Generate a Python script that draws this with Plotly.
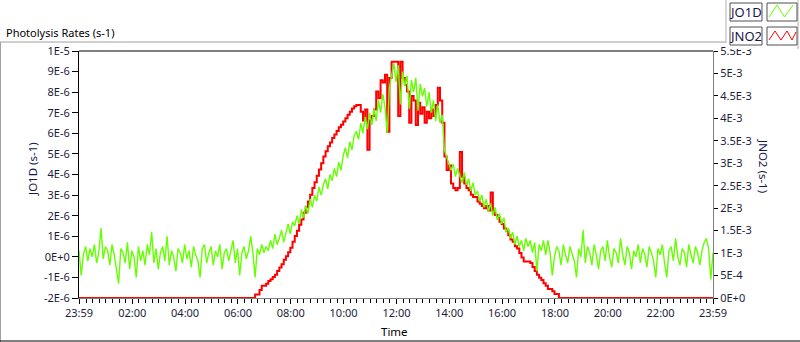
import plotly.graph_objects as go

# ---------------- data ----------------
# samples every 5 minutes, from 23:59 (previous day) to 23:59
START_H = -1 / 60
STEP_H = 5 / 60

# JO1D in units of 1E-6 s-1, one row per hour (12 samples)
JO1D_E6 = [
    0.3, -0.9, 0.1, 0.5, -0.2, 0.4, 0.0, 0.6, -0.3, 0.2, 1.4, -0.1,
    0.5, 0.3, -0.4, 0.6, 0.1, -0.5, -1.3, 0.4, 0.2, -0.3, 0.7, -0.6,
    0.3, 0.0, -1.0, 0.5, -0.2, 0.3, -0.4, 0.6, 0.1, 1.2, -0.3, 0.4,
    -0.6, 0.2, 0.5, -0.2, 1.0, -0.4, 0.3, 0.0, -0.7, 0.4, 0.2, -0.3,
    0.6, -0.1, 0.3, -0.5, 0.5, 0.1, -0.2, -1.0, 0.4, 0.6, -0.3, 0.2,
    0.5, -0.4, 0.3, 0.0, 0.6, -0.6, 0.2, 0.4, -0.2, 0.3, 0.8, -0.3,
    0.4, -0.9, 0.2, 0.5, -0.1, 0.3, 1.0, 0.2, -1.0, 0.4, 0.1, 0.6,
    0.2, 0.5, 0.3, 0.8, 0.4, 1.1, 0.6, 0.9, 1.3, 0.7, 1.2, 1.6,
    1.1, 1.7, 1.5, 2.0, 1.6, 2.3, 1.9, 2.5, 2.1, 2.8, 2.4, 3.0,
    2.7, 3.4, 3.0, 3.5, 3.8, 3.3, 4.0, 3.7, 4.3, 3.9, 4.6, 4.2,
    4.9, 5.3, 4.8, 5.6, 5.2, 5.9, 6.1, 5.7, 6.5, 6.0, 6.8, 6.2,
    7.0, 6.4, 7.2, 6.6, 7.6, 7.0, 7.9, 7.3, 6.0, 8.2, 8.8, 9.4,
    8.5, 9.3, 7.4, 9.0, 8.3, 8.8, 7.2, 8.6, 8.0, 8.7, 7.1, 8.4,
    7.8, 8.2, 7.3, 8.0, 7.0, 7.6, 6.6, 7.4, 6.5, 6.9, 5.2, 4.9,
    4.6, 4.2, 4.5, 3.9, 4.3, 4.0, 3.6, 4.1, 3.5, 3.8, 3.2, 3.6,
    3.0, 3.2, 2.7, 3.0, 2.4, 2.8, 2.2, 2.6, 2.0, 2.4, 1.8, 2.1,
    1.6, 1.9, 1.2, 1.4, 0.9, 1.2, 0.6, 1.0, 0.5, 0.8, 0.3, 0.9,
    0.5, 0.8, 0.2, 0.7, -0.7, 0.6, 0.3, 0.8, 0.1, 0.8, 0.2, -0.9,
    0.0, 0.5, 0.3, -0.4, 0.6, 0.1, -0.3, 0.5, 0.2, -0.2, -1.0, 0.4,
    0.0, 1.3, -0.3, 0.5, 0.2, -0.4, 0.6, 0.1, -0.6, 0.3, 0.5, -0.2,
    0.8, 0.0, -0.5, 0.4, 0.2, -0.3, 0.9, 0.1, -0.4, 0.5, 0.2, -0.6,
    0.3, 0.0, 0.6, -0.3, 0.4, 0.1, -0.5, 0.5, 0.2, -0.2, -1.0, 0.4,
    0.1, 0.6, -0.3, -1.0, 0.3, 0.5, -0.2, 0.9, 0.0, -0.4, 0.4, 0.2,
    -0.5, 0.6, 0.1, -0.3, 0.5, 0.2, -0.4, 0.3, 0.7, 0.9, 0.4, -1.1,
    0.2,
]

# JNO2 in units of 1E-3 s-1, one row per hour (12 samples)
JNO2_E3 = [
    0, 0, 0, 0, 0, 0, 0, 0, 0, 0, 0, 0,
    0, 0, 0, 0, 0, 0, 0, 0, 0, 0, 0, 0,
    0, 0, 0, 0, 0, 0, 0, 0, 0, 0, 0, 0,
    0, 0, 0, 0, 0, 0, 0, 0, 0, 0, 0, 0,
    0, 0, 0, 0, 0, 0, 0, 0, 0, 0, 0, 0,
    0, 0, 0, 0, 0, 0, 0, 0, 0, 0, 0, 0,
    0, 0, 0, 0, 0, 0, 0, 0, 0.08, 0.08, 0.18, 0.27,
    0.27, 0.32, 0.38, 0.42, 0.47, 0.52, 0.60, 0.68, 0.75, 0.85, 0.93, 1.02,
    1.12, 1.25, 1.38, 1.50, 1.63, 1.75, 1.90, 2.02, 2.15, 2.30, 2.45, 2.58,
    2.72, 2.86, 3.00, 3.15, 3.27, 3.38, 3.46, 3.56, 3.64, 3.72, 3.80, 3.86,
    3.93, 4.00, 4.08, 4.15, 4.22, 4.27, 4.30, 4.30, 4.15, 3.95, 4.20, 3.30,
    3.95, 4.05, 4.20, 4.60, 4.45, 4.85, 4.80, 4.97, 3.70, 4.90, 5.26, 5.26,
    5.26, 4.05, 5.26, 4.90, 4.75, 4.60, 3.90, 4.50, 4.40, 3.85, 4.35, 4.10,
    4.25, 3.90, 4.15, 4.00, 4.20, 4.05, 4.30, 4.68, 4.40, 3.90, 3.15, 2.85,
    2.95, 2.55, 2.45, 2.40, 2.45, 3.25, 2.70, 2.55, 2.45, 2.40, 2.30, 2.25,
    2.25, 2.15, 2.10, 2.05, 2.00, 2.05, 1.95, 2.35, 1.95, 1.85, 1.80, 1.70,
    1.65, 1.55, 1.50, 1.40, 1.30, 1.25, 1.15, 1.10, 1.00, 0.90, 0.81, 0.81,
    0.81, 0.78, 0.69, 0.60, 0.52, 0.45, 0.40, 0.33, 0.27, 0.20, 0.20, 0.15,
    0.09, 0.09, 0, 0, 0, 0, 0, 0, 0, 0, 0, 0,
    0, 0, 0, 0, 0, 0, 0, 0, 0, 0, 0, 0,
    0, 0, 0, 0, 0, 0, 0, 0, 0, 0, 0, 0,
    0, 0, 0, 0, 0, 0, 0, 0, 0, 0, 0, 0,
    0, 0, 0, 0, 0, 0, 0, 0, 0, 0, 0, 0,
    0, 0, 0, 0, 0, 0, 0, 0, 0, 0, 0, 0,
    0,
]

X_TICK_VALUES_H = [-1 / 60, 2, 4, 6, 8, 10, 12, 14, 16, 18, 20, 22, 23 + 59 / 60]
X_TICK_LABELS = ["23:59", "02:00", "04:00", "06:00", "08:00", "10:00", "12:00",
                 "14:00", "16:00", "18:00", "20:00", "22:00", "23:59"]

JO1D_TICK_VALUES = [-2e-6, -1e-6, 0.0, 1e-6, 2e-6, 3e-6, 4e-6, 5e-6, 6e-6,
                    7e-6, 8e-6, 9e-6, 1e-5]
JO1D_TICK_LABELS = ["-2E-6", "-1E-6", "0E+0", "1E-6", "2E-6", "3E-6", "4E-6",
                    "5E-6", "6E-6", "7E-6", "8E-6", "9E-6", "1E-5"]

JNO2_TICK_VALUES = [0.0, 5e-4, 1e-3, 1.5e-3, 2e-3, 2.5e-3, 3e-3, 3.5e-3,
                    4e-3, 4.5e-3, 5e-3, 5.5e-3]
JNO2_TICK_LABELS = ["0E+0", "5E-4", "1E-3", "1.5E-3", "2E-3", "2.5E-3",
                    "3E-3", "3.5E-3", "4E-3", "4.5E-3", "5E-3", "5.5E-3"]

# ---------------- derived ----------------
times_h = [START_H + i * STEP_H for i in range(len(JO1D_E6))]
jo1d = [v * 1e-6 for v in JO1D_E6]
jno2 = [v * 1e-3 for v in JNO2_E3]

# ---------------- layout geometry (pixels) ----------------
W, H = 800, 342
PL, PR, PT, PB = 79, 713, 51, 298


def px(x):
    return (x - PL) / (PR - PL)


def py(y):
    return (PB - y) / (PB - PT)


FONT = "Noto Sans"
TICK_COLOR = "#1c1c3c"
LABEL_COLOR = "#16164a"

fig = go.Figure()
fig.add_trace(go.Scatter(x=times_h, y=jno2, mode="lines", name="JNO2",
                         line=dict(color="#ff0000", width=2, shape="hv"),
                         yaxis="y"))
fig.add_trace(go.Scatter(x=times_h, y=jo1d, mode="lines", name="JO1D",
                         line=dict(color="#66ff00", width=1.4),
                         yaxis="y2"))

shapes = []


def seg(x0, y0, x1, y1, color, width=1):
    shapes.append(dict(type="line", xref="paper", yref="paper",
                       x0=px(x0), y0=py(y0), x1=px(x1), y1=py(y1),
                       line=dict(color=color, width=width), layer="above"))


def rect(x0, y0, x1, y1, color, fill=None, width=1):
    shapes.append(dict(type="rect", xref="paper", yref="paper",
                       x0=px(x0), y0=py(y0), x1=px(x1), y1=py(y1),
                       line=dict(color=color, width=width),
                       fillcolor=fill if fill else "rgba(0,0,0,0)",
                       layer="above"))


def path(points, color):
    d = "M " + " L ".join(f"{px(a):.5f},{py(b):.5f}" for a, b in points)
    shapes.append(dict(type="path", xref="paper", yref="paper", path=d,
                       line=dict(color=color, width=1), layer="above"))


# legend panel (covers the top of the right-axis label)
shapes.append(dict(type="rect", xref="paper", yref="paper",
                   x0=px(726), y0=py(49), x1=px(800), y1=py(0),
                   line=dict(width=0), fillcolor="white", layer="above"))
# outer frame
seg(0, 42, 726, 42, "#a0a0a0")
seg(726, 0, 726, 43, "#b0b0b0")
seg(798, 0, 798, 49, "#b0b0b0")
seg(0.5, 42, 0.5, 342, "#a0a0a0")
seg(0, 341, 800, 341, "#000000")
# plot frame top
seg(PL, PT, PR, PT, "#000000")
# legend boxes
rect(730, 3, 762, 21, "#505050")
rect(767, 3, 797, 21, "#505050")
rect(730, 27, 762, 45, "#505050")
rect(767, 27, 797, 45, "#505050")
path([(769, 17), (777, 5), (784.5, 17), (793, 5)], "#66ff00")
path([(769, 40), (775, 31), (781, 40), (787, 31), (792, 40), (796, 32)], "#ff0000")

annotations = [
    dict(text="Photolysis Rates (s-1)", x=px(4), y=py(32.5), xanchor="left",
         yanchor="middle", font=dict(size=11, color="#000000", family=FONT)),
    dict(text="Time", x=px(394), y=py(331), xanchor="center", yanchor="middle",
         font=dict(size=11.5, color="#000000", family=FONT)),
    dict(text="JO1D (s-1)", x=px(32), y=py(169), xanchor="center",
         yanchor="middle", textangle=-90,
         font=dict(size=11.5, color=LABEL_COLOR, family=FONT)),
    dict(text="JNO2 (s-1)", x=px(764), y=py(166), xanchor="center",
         yanchor="middle", textangle=90,
         font=dict(size=11.5, color=LABEL_COLOR, family=FONT)),
    dict(text="JO1D", x=px(746), y=py(12), xanchor="center", yanchor="middle",
         font=dict(size=13, color=LABEL_COLOR, family=FONT)),
    dict(text="JNO2", x=px(746), y=py(36), xanchor="center", yanchor="middle",
         font=dict(size=13, color=LABEL_COLOR, family=FONT)),
]
for a in annotations:
    a.update(xref="paper", yref="paper", showarrow=False)

tickfont = dict(size=11, color=TICK_COLOR, family=FONT)

fig.update_layout(
    width=W, height=H,
    margin=dict(l=PL, r=W - PR, t=PT, b=H - PB, pad=0),
    paper_bgcolor="white", plot_bgcolor="white",
    showlegend=False,
    xaxis=dict(range=[X_TICK_VALUES_H[0], X_TICK_VALUES_H[-1]],
               tickvals=X_TICK_VALUES_H, ticktext=X_TICK_LABELS,
               ticks="outside", ticklen=5, tickcolor="#000000", tickwidth=1,
               minor=dict(dtick=0.25, tick0=0, ticks="outside", ticklen=4,
                          tickcolor="#000000", tickwidth=1),
               showline=True, linecolor="#808080", linewidth=1,
               showgrid=False, zeroline=False, tickfont=tickfont),
    yaxis=dict(range=[0, 5.5e-3], side="right",
               tickvals=JNO2_TICK_VALUES, ticktext=JNO2_TICK_LABELS,
               ticks="outside", ticklen=4, tickcolor="#000000",
               showline=True, linecolor="#808080", linewidth=1,
               showgrid=False, zeroline=False, tickfont=tickfont),
    yaxis2=dict(range=[-2e-6, 1e-5], side="left", overlaying="y",
                tickvals=JO1D_TICK_VALUES, ticktext=JO1D_TICK_LABELS,
                ticks="outside", ticklen=6, tickcolor="#000000",
                showline=True, linecolor="#000000", linewidth=1,
                showgrid=False, zeroline=False, tickfont=tickfont),
    shapes=shapes,
    annotations=annotations,
)

fig.write_html(
    "out.html",
    config={"displayModeBar": False, "staticPlot": True},
    post_script="document.body.style.margin='0';document.body.style.overflow='hidden';",
)
